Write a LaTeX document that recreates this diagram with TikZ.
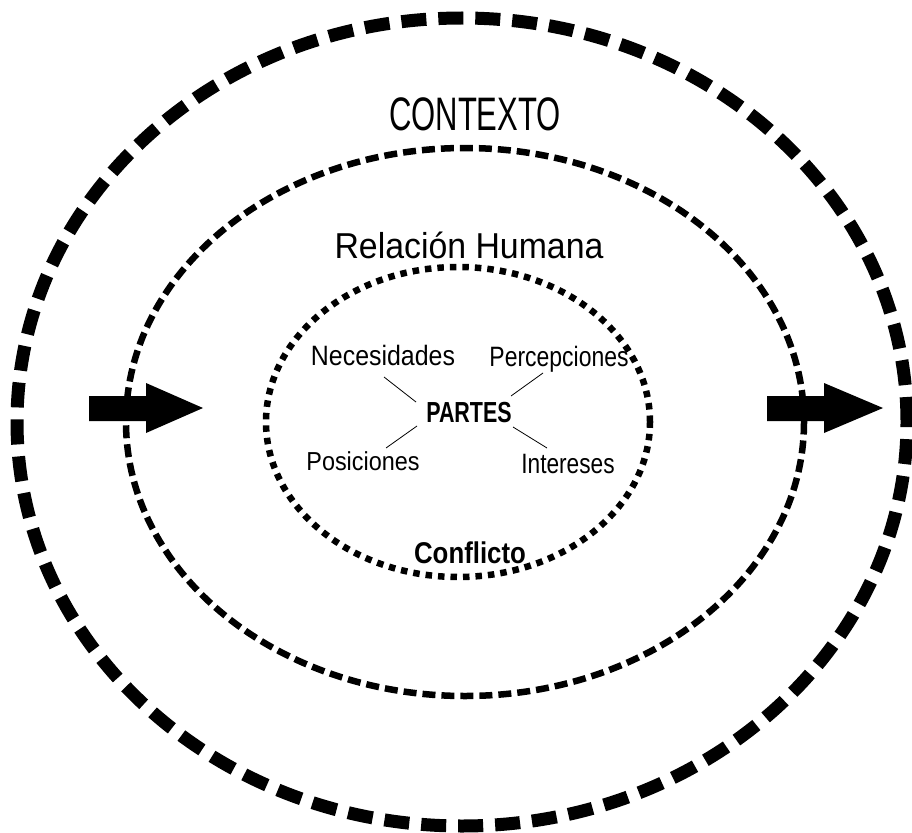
\documentclass[tikz,border=0pt]{standalone}
\usepackage{fontspec}
\setmainfont{Liberation Sans}
\usepackage{graphicx}
\tikzset{
  outerring/.style={line width=13pt, dash pattern=on 25pt off 12pt},
  midring/.style={line width=6.5pt, dash pattern=on 13pt off 6pt},
  innerring/.style={line width=6.5pt, dash pattern=on 6.5pt off 6pt},
  fatarrow/.style={fill=black, draw=none},
  lbl/.style={inner sep=1pt, font=\fontsize{28}{30}\selectfont},
  spoke/.style={line width=0.8pt},
}
\begin{document}
\begin{tikzpicture}[x=1pt,y=-1pt]
\useasboundingbox (0,0) rectangle (912,832);
% rings
\draw[outerring] (462,422) ellipse [x radius=445pt, y radius=404pt];
\draw[midring] (465,422) ellipse [x radius=339pt, y radius=274pt];
\draw[innerring] (458,422) ellipse [x radius=192pt, y radius=155pt];
% arrows
\fill[fatarrow] (89,396) -- (146,396) -- (146,383) -- (203,408) -- (146,433) -- (146,421) -- (89,421) -- cycle;
\fill[fatarrow] (767,396) -- (824,396) -- (824,383) -- (883,408) -- (824,433) -- (824,421) -- (767,421) -- cycle;
% titles
\node (ctx) at (475,114) {\fontsize{47}{50}\selectfont\scalebox{0.66}[1]{CONTEXTO}};
\node (rel) at (469,245) {\fontsize{36}{40}\selectfont\scalebox{0.94}[1]{Relación Humana}};
\node (conf) at (470,553) {\fontsize{30}{32}\selectfont\bfseries\scalebox{0.86}[1]{Conflicto}};
% center
\node[inner sep=1pt] (partes) at (469,413) {\fontsize{29}{30}\selectfont\bfseries\scalebox{0.74}[1]{PARTES}};
\node[lbl] (nec) at (383,355) {\scalebox{0.89}[1]{Necesidades}};
\node[lbl] (per) at (559,359) {\scalebox{0.82}[1]{Percepciones}};
\node[lbl] (pos) at (363,461) {\fontsize{26}{28}\selectfont\scalebox{0.9}[1]{Posiciones}};
\node[lbl] (int) at (568,464) {\scalebox{0.81}[1]{Intereses}};
\coordinate (n1) at (384,377); \coordinate (n2) at (416,402);
\coordinate (p1) at (543,373); \coordinate (p2) at (511,396);
\coordinate (o1) at (386,448); \coordinate (o2) at (417,426);
\coordinate (i1) at (547,448); \coordinate (i2) at (513,427);
\draw[spoke] (n2) -- (n1);
\draw[spoke] (p2) -- (p1);
\draw[spoke] (o2) -- (o1);
\draw[spoke] (i2) -- (i1);
\end{tikzpicture}
\end{document}
